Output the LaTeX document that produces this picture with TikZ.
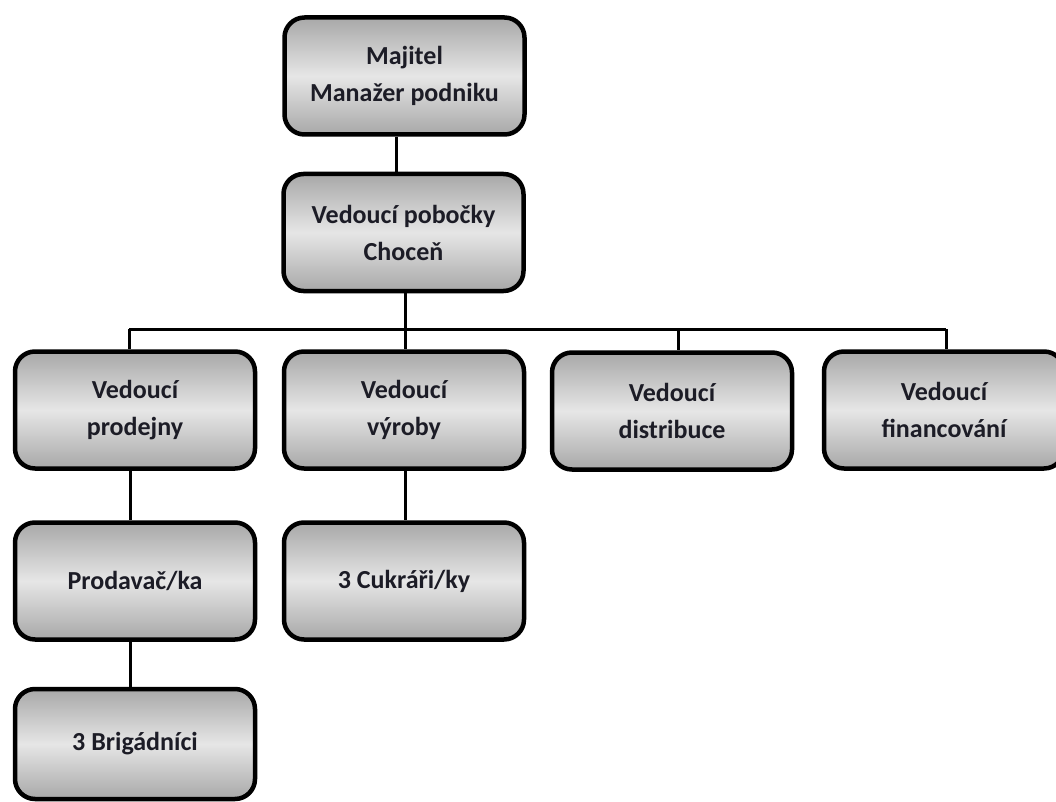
\documentclass[tikz,border=0pt]{standalone}
\usepackage{fontspec}
\setmainfont{Carlito}
\definecolor{txt}{HTML}{1C1C26}
\definecolor{gdark}{HTML}{A8A8A8}
\definecolor{glight}{HTML}{E6E6E6}
\begin{document}
\begin{tikzpicture}[x=1pt,y=-1pt,
  box/.style={draw=black, line width=4.5pt, rounded corners=20pt,
    minimum width=240pt, minimum height=117pt, inner sep=0pt,
    top color=gdark, bottom color=gdark, middle color=glight,
    align=center, text=txt, font=\fontsize{26}{37}\selectfont\bfseries},
  conn/.style={line width=3pt, draw=black}]
\fill[white] (0,0) rectangle (1056,802);
\useasboundingbox (0,0) rectangle (1056,802);

\node[box] (A) at (404.5,76) {Majitel\\Manažer podniku};
\node[box] (B) at (403.5,232.5) {Vedoucí pobočky\\Choceň};
\node[box] (C1) at (135,410) {Vedoucí\\prodejny};
\node[box] (C2) at (404,410) {Vedoucí\\výroby};
\node[box] (C3) at (672,411) {Vedoucí\\distribuce};
\node[box] (C4) at (944,410) {Vedoucí\\financování};
\node[box] (D1) at (135,581) {Prodavač/ka};
\node[box] (D2) at (404,581) {3 Cukráři/ky};
\node[box, minimum height=110pt] (E1) at (135,744) {3 Brigádníci};

\coordinate (busL) at (129,329);
\coordinate (busR) at (946,329);
\coordinate (x1) at (396,0);
\coordinate (x2) at (405,0);
\coordinate (x3) at (678,0);
\coordinate (x4) at (130,0);

\draw[conn] (A.south -| x1) -- (B.north -| x1);
\draw[conn] (B.south -| x2) -- (busL -| x2);
\draw[conn] (busL) -- (busR);
\draw[conn] (busL) -- (C1.north -| busL);
\draw[conn] (busL -| x2) -- (C2.north -| x2);
\draw[conn] (busL -| x3) -- (C3.north -| x3);
\draw[conn] (busR) -- (C4.north -| busR);
\draw[conn] (C1.south -| x4) -- (D1.north -| x4);
\draw[conn] (C2.south -| x2) -- (D2.north -| x2);
\draw[conn] (D1.south -| x4) -- (E1.north -| x4);
\end{tikzpicture}
\end{document}
